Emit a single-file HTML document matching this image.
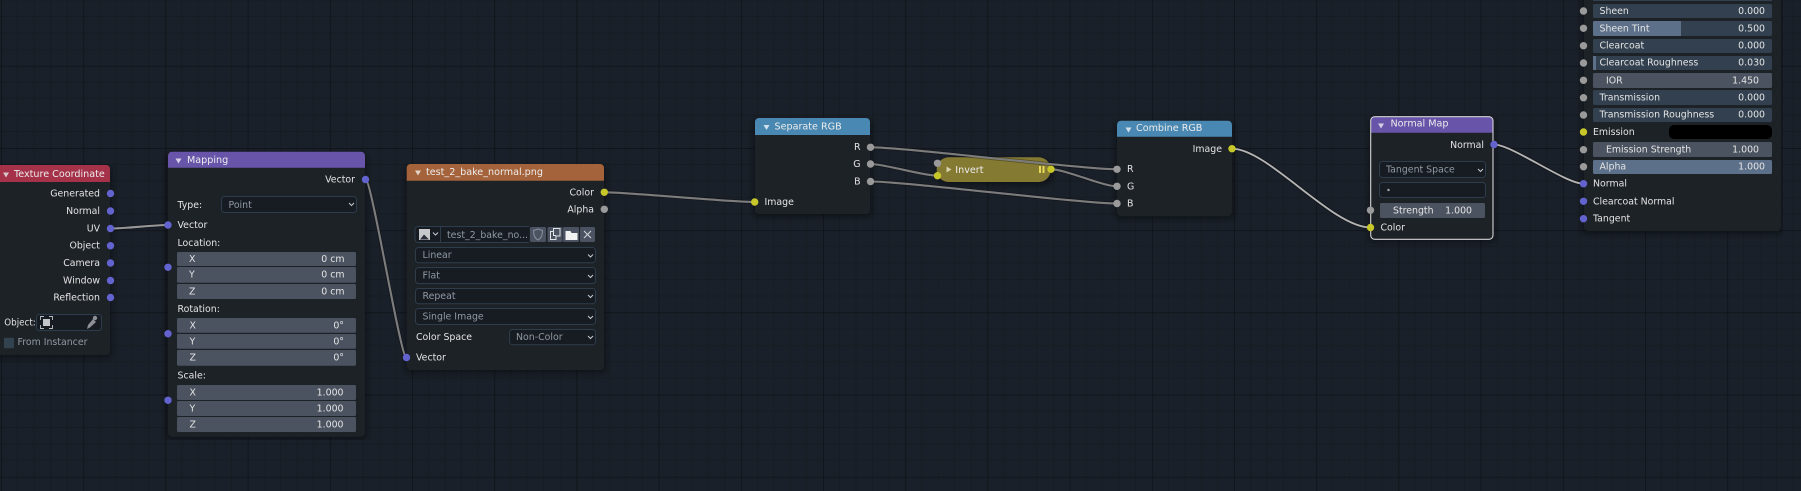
<!DOCTYPE html>
<html><head><meta charset="utf-8"><style>
html,body{margin:0;padding:0;background:#1a2029;width:1801px;height:491px;overflow:hidden}
svg{display:block}
text{font-family:"DejaVu Sans",sans-serif;font-size:9.4px;fill:#e4e4e4;transform:translateY(-.5px)}
.t{font-size:9.6px;fill:#ececec}
.r{text-anchor:end}
.d{fill:#9299a2}
.node{fill:#1c2028}
.fld{fill:#4c5361}
.sl{fill:#31414f}
.dd{fill:#151b23;stroke:#2e3c4b;stroke-width:1}
.chev{fill:none;stroke:#c8ccd2;stroke-width:1}
.sv{fill:#6464cf}
.sy{fill:#c7c729}
.sg{fill:#9a9a9a}
.ls{fill:none;stroke:#000;stroke-opacity:.3;stroke-width:3.8}
.l{fill:none;stroke:#7c7c7c;stroke-width:2.1}
.lw{fill:none;stroke:#b4b4b4;stroke-width:1.8}
</style></head><body>
<svg width="1801" height="491" viewBox="0 0 1801 491" xmlns="http://www.w3.org/2000/svg">
<defs>
<pattern id="g" patternUnits="userSpaceOnUse" width="82.2" height="82.2" x="1.1" y="65.8">
<path d="M16.44 0V82.2M32.88 0V82.2M49.32 0V82.2M65.76 0V82.2M0 16.44H82.2M0 32.88H82.2M0 49.32H82.2M0 65.76H82.2" stroke="#171c23" stroke-width="1" fill="none"/>
<path d="M0 0V82.2M0 0H82.2" stroke="#0f1217" stroke-width="1.5" fill="none"/>
</pattern>
<filter id="sh" x="-10%" y="-10%" width="120%" height="120%"><feGaussianBlur stdDeviation="3.5"/></filter>
<filter id="b" x="0" y="0" width="100%" height="100%"><feGaussianBlur stdDeviation="0.35"/></filter>
</defs>
<rect width="1801" height="491" fill="#1a2029"/>
<rect width="1801" height="491" fill="url(#g)"/>
<g filter="url(#b)">
<!-- shadows -->
<g fill="#000" fill-opacity=".42" filter="url(#sh)">
<rect x="-10" y="167" width="122" height="191" rx="4"/>
<rect x="166" y="154" width="201" height="286" rx="4"/>
<rect x="405" y="166" width="201" height="207" rx="4"/>
<rect x="753" y="120" width="119" height="97" rx="4"/>
<rect x="937" y="159" width="116" height="26" rx="12"/>
<rect x="1115" y="123" width="119" height="96" rx="4"/>
<rect x="1369" y="119" width="126" height="123" rx="4"/>
<rect x="1582" y="-10" width="201" height="244" rx="4"/>
</g>

<!-- Texture Coordinate -->
<rect x="-10" y="165" width="120" height="190" rx="4" class="node"/>
<path d="M-10 182V165H106a4 4 0 0 1 4 4V182Z" fill="#a5324a"/>
<path d="M3 172.5h6l-3 5z" fill="#d8c6cb"/>
<text x="14" y="177.5" class="t">Texture Coordinate</text>
<text x="100" y="197" class="r">Generated</text>
<text x="100" y="214.5" class="r">Normal</text>
<text x="100" y="232" class="r">UV</text>
<text x="100" y="249" class="r">Object</text>
<text x="100" y="266.5" class="r">Camera</text>
<text x="100" y="284" class="r">Window</text>
<text x="100" y="301" class="r">Reflection</text>
<text x="4.3" y="326" textLength="31.4" lengthAdjust="spacingAndGlyphs">Object:</text>
<rect x="36.5" y="314.5" width="65" height="16" rx="3" class="dd"/>
<rect x="43" y="319" width="7" height="7" fill="#c4c6ca"/>
<path d="M40.5 320v-3.5h3.5M49 316.5h3.5v3.5M52.5 325v3.5h-3.5M44 328.5h-3.5v-3.5" fill="none" stroke="#b9bcc1" stroke-width=".9"/>
<path d="M87 329l1-4 5-6 3 3-6 5.5z" fill="#8d9096"/><circle cx="95" cy="318" r="2.2" fill="#8d9096"/>
<rect x="4" y="337.7" width="10" height="10.5" rx="1" fill="#33424f"/>
<text x="17.5" y="345.7" class="d">From Instancer</text>

<!-- Mapping -->
<rect x="168" y="151.7" width="197" height="285" rx="4" class="node"/>
<path d="M168 167.700V155.700a4 4 0 0 1 4-4H361a4 4 0 0 1 4 4V167.700Z" fill="#6755a9"/>
<path d="M175.5 158.500h6l-3 5z" fill="#d5d0e6"/>
<text x="187" y="163.300" class="t">Mapping</text>
<text x="355" y="183" class="r">Vector</text>
<text x="177.5" y="208.300">Type:</text>
<rect x="221.500" y="196.500" width="135" height="16" rx="3" class="dd"/>
<text x="228.500" y="208.300" class="d">Point</text>
<path d="M349 203l2.500 2.500 2.500-2.500" class="chev"/>
<text x="177.500" y="228.300">Vector</text>
<text x="177.500" y="246.300">Location:</text>
<rect x="177" y="252" width="179" height="14" rx="1.500" class="fld"/>
<rect x="177" y="267" width="179" height="15.700" rx="1.500" class="fld"/>
<rect x="177" y="284" width="179" height="15" rx="1.500" class="fld"/>
<text x="189" y="262.500">X</text><text x="344.500" y="262.500" class="r">0 cm</text>
<text x="189" y="278">Y</text><text x="344.500" y="278" class="r">0 cm</text>
<text x="189" y="295">Z</text><text x="344.500" y="295" class="r">0 cm</text>
<text x="177.500" y="312.300">Rotation:</text>
<rect x="177" y="318" width="179" height="14.700" rx="1.500" class="fld"/>
<rect x="177" y="334" width="179" height="14.700" rx="1.500" class="fld"/>
<rect x="177" y="350" width="179" height="15.700" rx="1.500" class="fld"/>
<text x="189.500" y="329">X</text><text x="344" y="329" class="r">0°</text>
<text x="189.500" y="345">Y</text><text x="344" y="345" class="r">0°</text>
<text x="189.500" y="361">Z</text><text x="344" y="361" class="r">0°</text>
<text x="177.500" y="379">Scale:</text>
<rect x="177" y="385" width="179" height="15" rx="1.500" class="fld"/>
<rect x="177" y="401" width="179" height="15" rx="1.500" class="fld"/>
<rect x="177" y="417" width="179" height="15" rx="1.500" class="fld"/>
<text x="189.500" y="396">X</text><text x="343.500" y="396" class="r">1.000</text>
<text x="189.500" y="412">Y</text><text x="343.500" y="412" class="r">1.000</text>
<text x="189.500" y="428">Z</text><text x="343.500" y="428" class="r">1.000</text>

<!-- Image -->
<rect x="406.700" y="164" width="197.300" height="206" rx="4" class="node"/>
<path d="M406.700 180.700V168a4 4 0 0 1 4-4H600a4 4 0 0 1 4 4V180.700Z" fill="#a5643a"/>
<path d="M415 170.500h6l-3 5z" fill="#e3d2c6"/>
<text x="426" y="175.300" class="t">test_2_bake_normal.png</text>
<text x="594" y="196" class="r">Color</text>
<text x="594" y="213" class="r">Alpha</text>
<path d="M529 226.500H418a3 3 0 0 0-3 3v10a3 3 0 0 0 3 3H529" fill="#151b23" stroke="#2e3c4b"/>
<path d="M440.500 226.500v16" stroke="#2e3c4b"/>
<rect x="419" y="229" width="11" height="11" fill="#c6c8cc"/>
<path d="M420 239.500l4-5 5 5z" fill="#2a2f38"/>
<path d="M433 232.500l2.500 2.500 2.500-2.500" class="chev"/>
<text x="447" y="238.300" class="d">test_2_bake_no...</text>
<rect x="530" y="227" width="16" height="15" rx="1.500" fill="#4b5362"/>
<rect x="547.500" y="227" width="15" height="15" rx="1.500" fill="#4b5362"/>
<rect x="563" y="227" width="16" height="15" rx="1.500" fill="#4b5362"/>
<rect x="580" y="227" width="15" height="15" rx="1.500" fill="#4b5362"/>
<path d="M533.500 230.500l4.500-1.500 4.500 1.500c0 5-1.500 8-4.500 9.500-3-1.500-4.500-4.500-4.500-9.500z" fill="none" stroke="#8a909b"/>
<path d="M550.500 231.500h3v-3h6.500v7.500h-4v3.500h-5.500zM553.500 231.500v4h2.500" fill="none" stroke="#e2e3e5" stroke-width="1"/>
<path d="M565.500 231l5 0 1 2h6v7h-12z" fill="#f2f2f2"/>
<path d="M584 231l7 7M591 231l-7 7" stroke="#d5d7da" stroke-width="1"/>
<rect x="415.500" y="247.500" width="180" height="15.300" rx="3" class="dd"/>
<rect x="415.500" y="267.500" width="180" height="16" rx="3" class="dd"/>
<rect x="415.500" y="288.500" width="180" height="15.300" rx="3" class="dd"/>
<rect x="415.500" y="308.500" width="180" height="16" rx="3" class="dd"/>
<rect x="509.500" y="329.500" width="86" height="15.300" rx="3" class="dd"/>
<text x="422.500" y="258.500" class="d">Linear</text>
<text x="422.500" y="279" class="d">Flat</text>
<text x="422.500" y="299.300" class="d">Repeat</text>
<text x="422.500" y="320" class="d">Single Image</text>
<text x="416" y="340.300">Color Space</text>
<text x="516" y="340.300" class="d">Non-Color</text>
<path d="M588 254.500l2.500 2.500 2.500-2.500M588 275l2.500 2.500 2.500-2.500M588 295l2.500 2.500 2.500-2.500M588 316l2.500 2.500 2.500-2.500M588 336l2.500 2.500 2.500-2.500" class="chev"/>
<text x="416" y="361">Vector</text>

<!-- Separate RGB -->
<rect x="755" y="118" width="115" height="96" rx="4" class="node"/>
<path d="M755 135V122a4 4 0 0 1 4-4H866a4 4 0 0 1 4 4V135Z" fill="#4a88b2"/>
<path d="M763.500 125h6l-3 5z" fill="#cfe0ec"/>
<text x="774.500" y="130" class="t">Separate RGB</text>
<text x="860.500" y="150.700" class="r">R</text>
<text x="860.500" y="167.700" class="r">G</text>
<text x="860.500" y="185" class="r">B</text>
<text x="764.500" y="205.500">Image</text>

<!-- Combine RGB -->
<rect x="1117" y="120.700" width="115" height="95.500" rx="4" class="node"/>
<path d="M1117 136.700V124.700a4 4 0 0 1 4-4H1228a4 4 0 0 1 4 4V136.700Z" fill="#4a88b2"/>
<path d="M1125.500 127.500h6l-3 5z" fill="#cfe0ec"/>
<text x="1136" y="131.300" class="t">Combine RGB</text>
<text x="1222" y="152.300" class="r">Image</text>
<text x="1127" y="172.700">R</text>
<text x="1127" y="190">G</text>
<text x="1127" y="207">B</text>

<!-- Invert -->
<rect x="936.700" y="157.300" width="114" height="24.700" rx="12" fill="#857a33"/>
<path d="M946.500 166.500l5 3-5 3z" fill="#d6d1ab"/>
<text x="955.300" y="173.300" class="t">Invert</text>
<rect x="1039" y="166" width="2" height="7" fill="#e8d95a"/><rect x="1042.500" y="166" width="2" height="7" fill="#e8d95a"/>

<!-- Normal Map -->
<rect x="1370.700" y="116.700" width="122.300" height="122.600" rx="4" class="node"/>
<path d="M1370.700 132.700V120.700a4 4 0 0 1 4-4H1489a4 4 0 0 1 4 4V132.700Z" fill="#6755a9"/>
<rect x="1370.700" y="116.700" width="122.300" height="122.600" rx="4" fill="none" stroke="#d4d4d4" stroke-width="1.100"/>
<path d="M1378 123.500h6l-3 5z" fill="#d5d0e6"/>
<text x="1390.500" y="127" class="t">Normal Map</text>
<text x="1484" y="148.500" class="r">Normal</text>
<rect x="1379.500" y="161.500" width="106" height="16" rx="3" class="dd"/>
<text x="1386" y="173" class="d">Tangent Space</text>
<path d="M1478 169l2.500 2.500 2.500-2.500" class="chev"/>
<rect x="1379.500" y="182.500" width="106" height="15" rx="3" class="dd"/>
<circle cx="1388.500" cy="190" r="1.200" fill="#a7acb3"/>
<rect x="1380" y="203" width="105" height="15" rx="1.500" class="fld"/>
<text x="1393" y="214">Strength</text>
<text x="1472" y="214" class="r">1.000</text>
<text x="1380.500" y="231">Color</text>

<!-- Principled -->
<rect x="1584" y="-10" width="197" height="241" rx="4" class="node"/>
<rect x="1593" y="-3" width="179" height="4" class="sl"/>
<rect x="1593" y="4" width="179" height="14" rx="1.500" class="sl"/>
<rect x="1593" y="21" width="179" height="15" rx="1.500" class="sl"/>
<path d="M1681 21H1594.500a1.500 1.500 0 0 0-1.500 1.500v12a1.500 1.500 0 0 0 1.500 1.500H1681Z" fill="#5d7089"/>
<rect x="1593" y="39" width="179" height="14" rx="1.500" class="sl"/>
<rect x="1593" y="56" width="179" height="14" rx="1.500" class="sl"/>
<rect x="1593" y="56" width="3" height="14" fill="#5d7089"/>
<rect x="1593" y="73" width="179" height="15" rx="1.500" class="fld"/>
<rect x="1593" y="90" width="179" height="15" rx="1.500" class="sl"/>
<rect x="1593" y="108" width="179" height="14" rx="1.500" class="sl"/>
<rect x="1669" y="125" width="103" height="14" rx="5" fill="#000"/>
<rect x="1593" y="142" width="179" height="15" rx="1.500" class="fld"/>
<rect x="1593" y="160" width="179" height="14" rx="1.500" fill="#5d7089"/>
<text x="1599.500" y="14.500">Sheen</text><text x="1765" y="14.500" class="r">0.000</text>
<text x="1599.500" y="32">Sheen Tint</text><text x="1765" y="32" class="r">0.500</text>
<text x="1599.500" y="49">Clearcoat</text><text x="1765" y="49" class="r">0.000</text>
<text x="1599.500" y="66">Clearcoat Roughness</text><text x="1765" y="66" class="r">0.030</text>
<text x="1606" y="84">IOR</text><text x="1759" y="84" class="r">1.450</text>
<text x="1599.500" y="101">Transmission</text><text x="1765" y="101" class="r">0.000</text>
<text x="1599.500" y="118">Transmission Roughness</text><text x="1765" y="118" class="r">0.000</text>
<text x="1593" y="135.500">Emission</text>
<text x="1606" y="153">Emission Strength</text><text x="1759" y="153" class="r">1.000</text>
<text x="1599.500" y="170">Alpha</text><text x="1765" y="170" class="r">1.000</text>
<text x="1593" y="187">Normal</text>
<text x="1593" y="205">Clearcoat Normal</text>
<text x="1593" y="222">Tangent</text>

<!-- Links -->
<path d="M110.500 228.500C125 228.500 153 225 168 225" class="ls"/><path d="M110.500 228.500C125 228.500 153 225 168 225" class="l" style="stroke:#989898"/>
<path d="M365.500 179.500C372 179.500 400 357.500 406.500 357.500" class="ls"/><path d="M365.500 179.500C372 179.500 400 357.500 406.500 357.500" class="l"/>
<path d="M604.300 192.300C630 192.300 729 202 754.700 202" class="ls"/><path d="M604.300 192.300C630 192.300 729 202 754.700 202" class="l"/>
<path d="M870.500 147.300C905 147.300 1082 169.300 1117 169.300" class="ls"/><path d="M870.500 147.300C905 147.300 1082 169.300 1117 169.300" class="l"/>
<path d="M870.500 164C885 164 922 175.700 937.500 175.700" class="ls"/><path d="M870.500 164C885 164 922 175.700 937.500 175.700" class="l"/>
<path d="M870.500 181.500C905 181.500 1082 203.500 1117 203.500" class="ls"/><path d="M870.500 181.500C905 181.500 1082 203.500 1117 203.500" class="l"/>
<path d="M1051 169.300C1066 169.300 1102 186.300 1117 186.300" class="ls"/><path d="M1051 169.300C1066 169.300 1102 186.300 1117 186.300" class="l"/>
<path d="M1232 148.700C1268 148.700 1332 227.500 1370.500 227.500" class="ls"/><path d="M1232 148.700C1268 148.700 1332 227.500 1370.500 227.500" class="lw"/>
<path d="M1494 144.500C1512 144.500 1565 183.700 1583.500 183.700" class="ls"/><path d="M1494 144.500C1512 144.500 1565 183.700 1583.500 183.700" class="lw"/>

<!-- Sockets -->
<g class="sv"><circle cx="110.500" cy="193.500" r="3.700"/><circle cx="110.500" cy="211" r="3.700"/><circle cx="110.500" cy="228.500" r="3.700"/><circle cx="110.500" cy="245.700" r="3.700"/><circle cx="110.500" cy="263" r="3.700"/><circle cx="110.500" cy="280.500" r="3.700"/><circle cx="110.500" cy="297.500" r="3.700"/>
<circle cx="365.500" cy="179.500" r="3.700"/><circle cx="168" cy="225" r="3.700"/><circle cx="168" cy="267.300" r="3.700"/><circle cx="168" cy="333.700" r="3.700"/><circle cx="168" cy="400.300" r="3.700"/><circle cx="406.500" cy="357.500" r="3.700"/><circle cx="1494" cy="144.500" r="3.700"/><circle cx="1583.500" cy="183.700" r="3.700"/><circle cx="1583.500" cy="201.300" r="3.700"/><circle cx="1583.500" cy="218.700" r="3.700"/></g>
<g class="sy"><circle cx="604.300" cy="192.300" r="3.700"/><circle cx="754.700" cy="202" r="3.700"/><circle cx="937.500" cy="175.700" r="3.700"/><circle cx="1051" cy="169.300" r="3.700"/><circle cx="1232" cy="148.700" r="3.700"/><circle cx="1370.500" cy="227.500" r="3.700"/><circle cx="1583.500" cy="132" r="3.700"/></g>
<g class="sg"><circle cx="604.300" cy="209.300" r="3.700"/><circle cx="870.500" cy="147.300" r="3.700"/><circle cx="870.500" cy="164" r="3.700"/><circle cx="870.500" cy="181.500" r="3.700"/><circle cx="937.500" cy="163.300" r="3.700"/><circle cx="1117" cy="169.300" r="3.700"/><circle cx="1117" cy="186.300" r="3.700"/><circle cx="1117" cy="203.500" r="3.700"/><circle cx="1370.500" cy="210.300" r="3.700"/><circle cx="1583.500" cy="11" r="3.700"/><circle cx="1583.500" cy="28.300" r="3.700"/><circle cx="1583.500" cy="45.700" r="3.700"/><circle cx="1583.500" cy="63" r="3.700"/><circle cx="1583.500" cy="80.300" r="3.700"/><circle cx="1583.500" cy="97.700" r="3.700"/><circle cx="1583.500" cy="115" r="3.700"/><circle cx="1583.500" cy="149.700" r="3.700"/><circle cx="1583.500" cy="166.700" r="3.700"/></g>
</g>
</svg>
</body></html>
